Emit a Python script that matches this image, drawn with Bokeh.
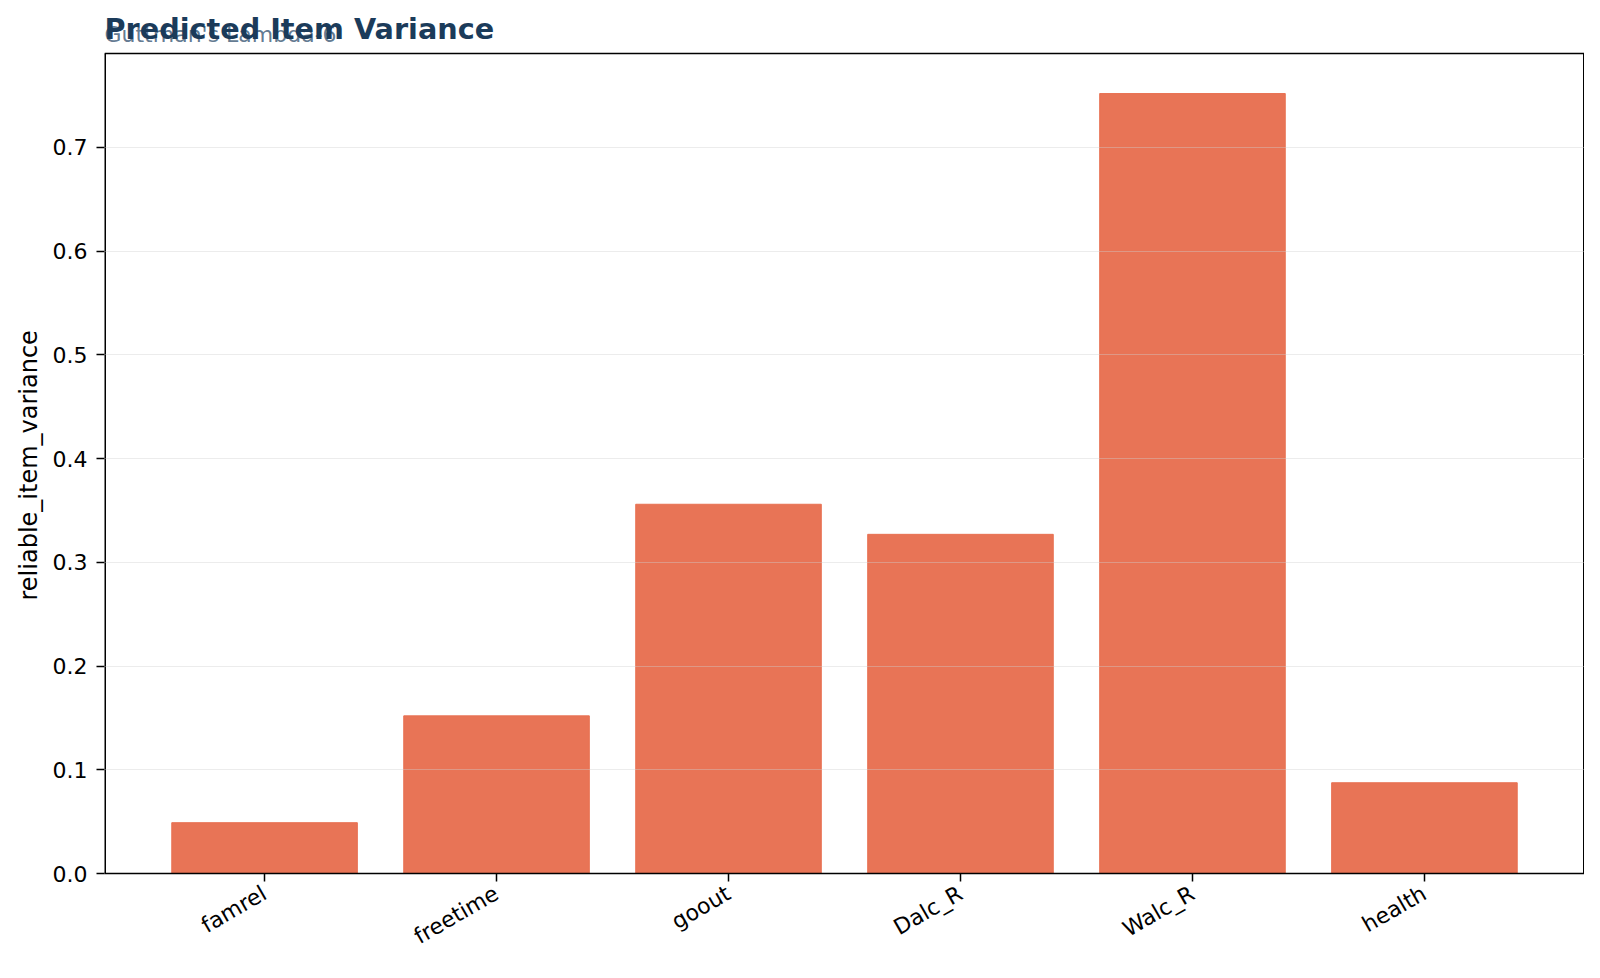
from bokeh.plotting import figure
from bokeh.models import FixedTicker, Label, Range1d, Title
from bokeh.embed import file_html
from bokeh.resources import INLINE
import math

items = ["famrel", "freetime", "goout", "Dalc_R", "Walc_R", "health"]
variance = [0.049, 0.152, 0.356, 0.327, 0.752, 0.0875]
positions = list(range(len(items)))
y_ticks = [0.0, 0.1, 0.2, 0.3, 0.4, 0.5, 0.6, 0.7]

# axes box limits (data units); the frame goes higher to hold the titles,
# since annotations are clipped to the frame
x_lo, x_hi = -0.69, 5.69
y_top = 0.7906
frame_top = 0.8417

p = figure(width=1584, height=962, output_backend="svg", toolbar_location=None,
           x_range=Range1d(x_lo, x_hi), y_range=Range1d(0, frame_top),
           min_border_left=104, min_border_right=0, min_border_top=0, min_border_bottom=89)
p.title = None

p.vbar(x=positions, top=variance, width=0.8, color="#E76F51", alpha=0.97)

# left, top and right spines of the axes box (outer edges get clipped by half)
p.segment(x0=[x_lo, x_lo, x_hi], y0=[0, y_top, 0], x1=[x_lo, x_hi, x_hi], y1=[y_top, y_top, y_top],
          line_color="black", line_width=[3, 1.5, 3])

p.xaxis.ticker = FixedTicker(ticks=positions)
p.xaxis.major_label_overrides = {i: s for i, s in enumerate(items)}
p.xaxis.major_label_orientation = math.radians(30)
p.xaxis.major_label_standoff = 10
p.yaxis.ticker = FixedTicker(ticks=y_ticks)
p.yaxis.major_label_overrides = {v: "%.1f" % v for v in y_ticks}
p.yaxis.major_label_standoff = 9
for ax in (p.xaxis, p.yaxis):
    ax.major_label_text_font = "DejaVu Sans"
    ax.major_label_text_font_size = "22px"
    ax.major_label_text_color = "black"
    ax.axis_line_color = "black"
    ax.axis_line_width = 1.5
    ax.major_tick_line_color = "black"
    ax.major_tick_line_width = 1.5
    ax.major_tick_out = 8
    ax.major_tick_in = 0
    ax.minor_tick_line_color = None
p.yaxis.axis_line_color = None

# y label as a side title so it can sit centred on the axes box
p.add_layout(Title(text="reliable_item_variance", align="left", offset=273, standoff=13,
                   text_font="DejaVu Sans", text_font_size="24px",
                   text_font_style="normal", text_color="black"), "left")

p.xgrid.grid_line_color = None
p.ygrid.grid_line_color = "#d0d0d0"
p.ygrid.grid_line_alpha = 0.4
p.ygrid.level = "overlay"
p.outline_line_color = None

# subtitle and title overlap, as in the source
p.add_layout(Label(x=0, y=839, x_units="screen", y_units="screen",
                   text="Guttman's Lambda-6", text_font="DejaVu Sans",
                   text_font_size="22px", text_color="#4f6a84", text_alpha=0.9,
                   text_baseline="alphabetic"))
p.add_layout(Label(x=0, y=845, x_units="screen", y_units="screen",
                   text="Predicted Item Variance", text_font="DejaVu Sans",
                   text_font_size="28.7px", text_font_style="bold", text_color="#1b3b5a",
                   text_baseline="alphabetic"))

open("out.html", "w").write(file_html(p, INLINE))
